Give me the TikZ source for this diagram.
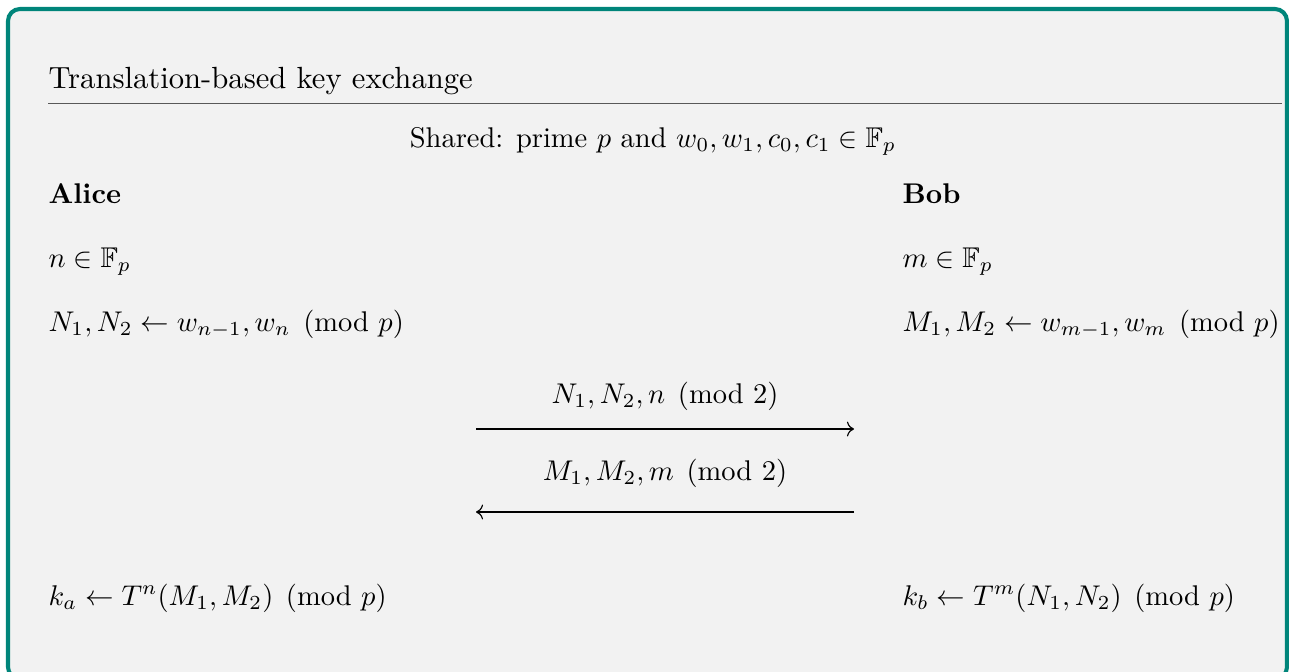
\documentclass[tikz,border=0pt]{standalone}
\usepackage{amsmath,amssymb}
\usetikzlibrary{arrows.meta}

\definecolor{frameteal}{RGB}{0,133,122}
\definecolor{backgray}{RGB}{242,242,242}

\begin{document}
\begin{tikzpicture}[
  x=0.3509pt, y=-0.3509pt,
  every node/.style={inner sep=0pt, anchor=base west},
  party/.style={font=\bfseries},
  msg/.style={draw=black, line width=0.4pt, ->},
  msglabel/.style={anchor=base}
]
\useasboundingbox (0,0) rectangle (1289,671);
\draw[frameteal, line width=0.5mm, fill=backgray, rounded corners=4.2pt] (8,9) rectangle (1287,679);

% title
\node[font=\fontsize{10.75pt}{13pt}\selectfont] (title) at (48,88) {Translation-based key exchange};
\draw[black!65, line width=0.5pt] (48,103.5) -- (1282,103.5);
\node[anchor=base] (shared) at (653,147) {Shared: prime $p$ and $w_0,w_1,c_0,c_1\in\mathbb{F}_p$};

% Alice
\node[party] (alice) at (48,203.5) {Alice};
\node (asecret) at (48,267) {$n\in\mathbb{F}_p$};
\node (apub) at (48,331) {$N_1,N_2\leftarrow w_{n-1},w_n \pmod{p}$};
\node (akey) at (48,605) {$k_a\leftarrow T^n(M_1,M_2) \pmod{p}$};

% Bob
\node[party] (bob) at (902,203.5) {Bob};
\node (bsecret) at (902,267) {$m\in\mathbb{F}_p$};
\node (bpub) at (902,331) {$M_1,M_2\leftarrow w_{m-1},w_m \pmod{p}$};
\node (bkey) at (902,605) {$k_b\leftarrow T^m(N_1,N_2) \pmod{p}$};

% messages
\coordinate (m1l) at (476,429);
\coordinate (m1r) at (854,429);
\coordinate (m2l) at (476,512);
\coordinate (m2r) at (854,512);
\node[msglabel] (m1) at (665,403) {$N_1,N_2,n \pmod{2}$};
\node[msglabel] (m2) at (665,480) {$M_1,M_2,m \pmod{2}$};
\draw[msg] (m1l) -- (m1r);
\draw[msg] (m2r) -- (m2l);
\end{tikzpicture}
\end{document}
